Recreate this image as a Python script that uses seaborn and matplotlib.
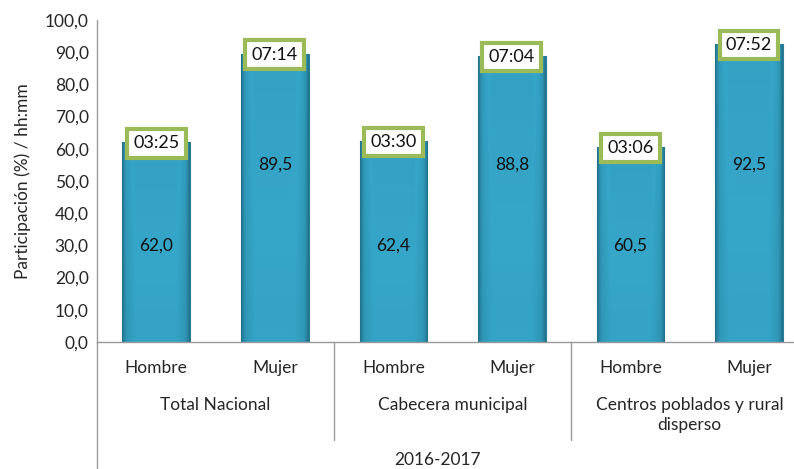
import numpy as np
import pandas as pd
import seaborn as sns
from matplotlib import pyplot as plt
from matplotlib.colors import LinearSegmentedColormap

# data
groups = ["Total Nacional", "Cabecera municipal", "Centros poblados y rural\ndisperso"]
sexes = ["Hombre", "Mujer"]
participacion = [62.0, 89.5, 62.4, 88.8, 60.5, 92.5]
tiempo = ["03:25", "07:14", "03:30", "07:04", "03:06", "07:52"]
periodo = "2016-2017"

df = pd.DataFrame({
    "grupo": np.repeat(groups, len(sexes)),
    "sexo": sexes * len(groups),
    "valor": participacion,
    "tiempo": tiempo,
})
df["key"] = df.grupo + "|" + df.sexo

sns.set_style("white")
plt.rcParams["font.family"] = ["Lato", "DejaVu Sans"]
fs = 12.5

fig = plt.figure(figsize=(7.94, 4.69), dpi=100)
ax = fig.add_axes([97 / 794, 127 / 469, 697 / 794, 322 / 469])

sns.barplot(data=df, x="key", y="valor", order=list(df.key), color="#31A0C2",
            width=0.57, ax=ax, zorder=2)

# gradient fill, darker at the sides and bottom like the original 3D bars
cmap = LinearSegmentedColormap.from_list("bar", ["#1F6E86", "#2C8DAB", "#36A6C9", "#2C8DAB", "#1F6E86"])
xs = np.linspace(0, 1, 60)
prof = np.interp(xs, [0, 0.06, 0.2, 0.8, 0.94, 1], [0.05, 0.4, 0.55, 0.55, 0.4, 0.05])
ys = np.linspace(0, 1, 80)[:, None]
grad = prof[None, :] * (0.85 + 0.15 * ys)
for p in ax.patches:
    x0, y0 = p.get_x(), p.get_y()
    w, h = p.get_width(), p.get_height()
    im = ax.imshow(grad, cmap=cmap, vmin=0, vmax=1, aspect="auto", origin="lower",
                   extent=[x0, x0 + w, y0, y0 + h], zorder=2.5)
    im.set_clip_path(p)
    p.set_edgecolor("#2A7E96")
    p.set_linewidth(0.8)

ax.set_xlim(-0.5, 5.38)
ax.set_ylim(0, 100)
ax.set_yticks(np.arange(0, 101, 10))
ax.set_yticklabels([f"{v:.1f}".replace(".", ",") for v in np.arange(0, 101, 10)], fontsize=fs)
ax.set_ylabel("Participación (%) / hh:mm", fontsize=fs, labelpad=10)
ax.set_xlabel("")
ax.set_xticks([])
ax.tick_params(axis="y", length=0, pad=6)

for s in ["top", "right"]:
    ax.spines[s].set_visible(False)
for s in ["left", "bottom"]:
    ax.spines[s].set_color("#9A9A9A")
    ax.spines[s].set_linewidth(1)

# value labels and time boxes
label_h = {"Hombre": 30, "Mujer": 55}
for i, row in df.iterrows():
    ax.text(i, label_h[row.sexo], f"{row.valor:.1f}".replace(".", ","),
            ha="center", va="center", fontsize=fs, color="#111111", zorder=4)
    ax.text(i, row.valor - 0.3, row.tiempo, ha="center", va="center", fontsize=13,
            color="#111111", zorder=5,
            bbox=dict(boxstyle="square,pad=0.35", fc="white", ec="#9BBB59", lw=3))

# multi-level category axis
tr = ax.get_xaxis_transform()
for i, row in df.iterrows():
    ax.text(i, -0.08, row.sexo, transform=tr, ha="center", va="center", fontsize=fs)
for g, name in enumerate(groups):
    ax.text(2 * g + 0.5, -0.172, name, transform=tr, ha="center", va="top",
            fontsize=fs, linespacing=1.25)
for xb in [1.5, 3.5]:
    ax.plot([xb, xb], [0, -0.304], transform=tr, color="#9A9A9A", lw=1, clip_on=False)
ax.plot([-0.5, -0.5], [0, -0.4], transform=tr, color="#9A9A9A", lw=1, clip_on=False)
fig.text(438 / 794, 1 - 460 / 469, periodo, ha="center", va="center", fontsize=fs)

fig.savefig("out.png", dpi=100)
